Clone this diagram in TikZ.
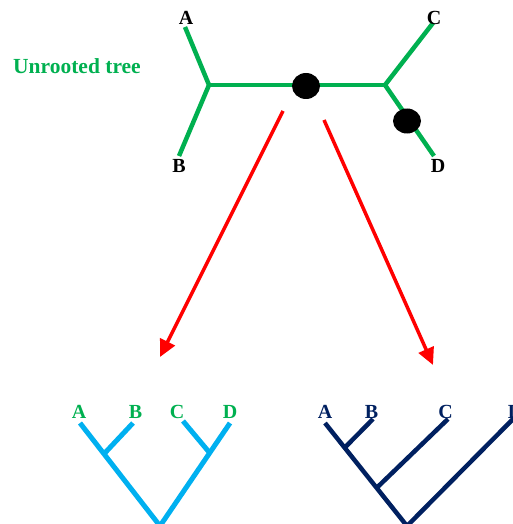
\documentclass[tikz,border=0pt]{standalone}
\usepackage{fontspec}
\setmainfont{Liberation Serif}
\usetikzlibrary{arrows.meta,shapes.geometric,calc}
\definecolor{treegreen}{HTML}{00B050}
\definecolor{treecyan}{HTML}{00B0F0}
\definecolor{treenavy}{HTML}{002060}
\definecolor{arrowred}{HTML}{FF0000}
\tikzset{
  lbl/.style={anchor=base, inner sep=0pt, font=\fontsize{20}{22}\selectfont\bfseries},
  greenedge/.style={draw=treegreen, line width=4.5pt},
  cyanedge/.style={draw=treecyan, line width=5pt},
  navyedge/.style={draw=treenavy, line width=4.5pt},
  bigarrow/.style={draw=arrowred, line width=3.5pt, -{Triangle[length=17pt,width=16pt]}},
  blob/.style={ellipse, fill=black, inner sep=0pt, minimum width=28pt, minimum height=26pt}
}
\begin{document}
\begin{tikzpicture}[x=1pt, y=-1pt]
\clip (0,0) rectangle (513,524);

% --- unrooted tree ---
\node[lbl, anchor=base west, text=treegreen, font=\fontsize{21.5}{24}\selectfont\bfseries] (title) at (13,74) {Unrooted tree};
\coordinate (uA) at (185,27);
\coordinate (uB) at (179,156);
\coordinate (uC) at (433,23);
\coordinate (uD) at (434,156);
\coordinate (uL) at (209,85);
\coordinate (uR) at (385,85);
\draw[greenedge, line join=miter] (uA) -- (uL) -- (uB);
\draw[greenedge] (uL) -- (uR);
\draw[greenedge, line join=miter] (uC) -- (uR) -- (uD);
\node[blob] (root1) at (306,86) {};
\node[blob, minimum height=25pt] (root2) at (407,121) {};
\node[lbl] (tA) at (186,25) {A};
\node[lbl] (tB) at (179,172) {B};
\node[lbl] (tC) at (434,25) {C};
\node[lbl] (tD) at (438,172) {D};

% --- rooting arrows ---
\coordinate (s1) at (283,111);
\coordinate (e1) at (160,357);
\coordinate (s2) at (324,120);
\coordinate (e2) at (433,365);
\draw[bigarrow] (s1) -- (e1);
\draw[bigarrow] (s2) -- (e2);

% --- rooted tree, root on the central edge ---
\coordinate (lRoot) at (160,526);
\coordinate (lA) at (80,423);
\coordinate (lB) at (133,423);
\coordinate (lC) at (183,421);
\coordinate (lD) at (230,423);
\coordinate (lAB) at ($(lA)!0.30!(lRoot)$);
\coordinate (lCD) at ($(lD)!0.29!(lRoot)$);
\draw[cyanedge] (lA) -- (lRoot) -- (lD);
\draw[cyanedge] (lAB) -- (lB);
\draw[cyanedge] (lCD) -- (lC);
\node[lbl, text=treegreen] (bA) at (79,418) {A};
\node[lbl, text=treegreen] (bB) at (135.5,418) {B};
\node[lbl, text=treegreen] (bC) at (177,418) {C};
\node[lbl, text=treegreen] (bD) at (230,418) {D};

% --- rooted tree, root on the branch to D ---
\coordinate (rRoot) at (407,526);
\coordinate (rA) at (325,423);
\coordinate (rB) at (373,419);
\coordinate (rC) at (448,419);
\coordinate (rD) at (518,414);
\coordinate (rAB) at ($(rA)!0.24!(rRoot)$);
\coordinate (rABC) at ($(rA)!0.63!(rRoot)$);
\draw[navyedge] (rA) -- (rRoot) -- (rD);
\draw[navyedge] (rAB) -- (rB);
\draw[navyedge] (rABC) -- (rC);
\node[lbl, text=treenavy] (cA) at (325,418) {A};
\node[lbl, text=treenavy] (cB) at (371.5,418) {B};
\node[lbl, text=treenavy] (cC) at (445.5,418) {C};
\node[lbl, text=treenavy] (cD) at (515,418) {D};
\end{tikzpicture}
\end{document}
